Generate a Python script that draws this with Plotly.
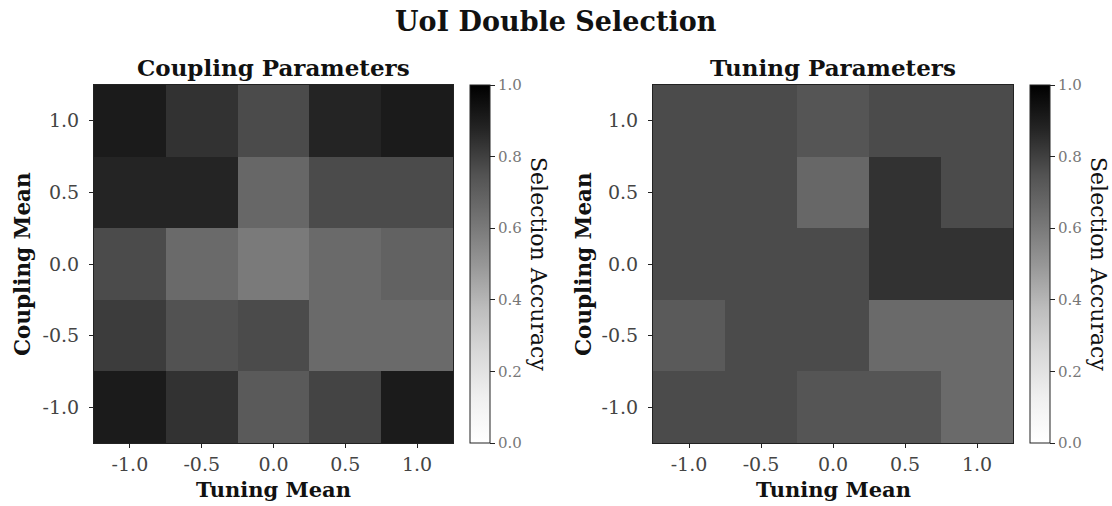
import plotly.graph_objects as go

# Grid of means (tuning on x, coupling on y)
tuning_means = [-1.0, -0.5, 0.0, 0.5, 1.0]
coupling_means = [-1.0, -0.5, 0.0, 0.5, 1.0]
tick_labels = ["-1.0", "-0.5", "0.0", "0.5", "1.0"]
cbar_ticks = [0.0, 0.2, 0.4, 0.6, 0.8, 1.0]
cbar_labels = ["0.0", "0.2", "0.4", "0.6", "0.8", "1.0"]

# Selection accuracy, rows ordered by coupling mean from -1.0 up to 1.0
coupling_accuracy = [
    [0.91, 0.84, 0.72, 0.79, 0.91],
    [0.81, 0.75, 0.77, 0.66, 0.66],
    [0.77, 0.66, 0.60, 0.66, 0.69],
    [0.88, 0.88, 0.67, 0.77, 0.77],
    [0.91, 0.84, 0.77, 0.88, 0.91],
]
tuning_accuracy = [
    [0.77, 0.77, 0.74, 0.74, 0.66],
    [0.72, 0.77, 0.77, 0.66, 0.66],
    [0.77, 0.77, 0.77, 0.84, 0.84],
    [0.77, 0.77, 0.67, 0.84, 0.77],
    [0.77, 0.77, 0.74, 0.77, 0.77],
]

# ColorBrewer "Greys" ramp
greys = [
    [0.000, "rgb(255,255,255)"],
    [0.125, "rgb(240,240,240)"],
    [0.250, "rgb(217,217,217)"],
    [0.375, "rgb(189,189,189)"],
    [0.500, "rgb(150,150,150)"],
    [0.625, "rgb(115,115,115)"],
    [0.750, "rgb(82,82,82)"],
    [0.875, "rgb(37,37,37)"],
    [1.000, "rgb(0,0,0)"],
]

W, H = 1112, 506
SERIF = "DejaVu Serif"
INK = "#111"


def px_x(p):
    return p / W


def px_y(p):
    return 1 - p / H


top, bottom = 85, 443
y_dom = [px_y(bottom), px_y(top)]
y_mid = (y_dom[0] + y_dom[1]) / 2
panels = [
    dict(x0=94, x1=453, cb=470, ylab=22, z=coupling_accuracy, title="Coupling Parameters"),
    dict(x0=653, x1=1013, cb=1030, ylab=583, z=tuning_accuracy, title="Tuning Parameters"),
]

fig = go.Figure()
annotations = []


def note(text, x, y, size, angle=0, color=INK):
    annotations.append(dict(
        text=text, xref="paper", yref="paper", x=x, y=y,
        xanchor="center", yanchor="middle", textangle=angle,
        showarrow=False, font=dict(family=SERIF, size=size, color=color),
    ))


for i, p in enumerate(panels):
    sfx = "" if i == 0 else str(i + 1)
    fig.add_trace(go.Heatmap(
        x=tuning_means, y=coupling_means, z=p["z"],
        zmin=0, zmax=1, colorscale=greys,
        xaxis="x" + sfx, yaxis="y" + sfx,
        hoverinfo="skip",
        colorbar=dict(
            x=px_x(p["cb"]), xanchor="left", xpad=0, ypad=0,
            y=y_mid, yanchor="middle",
            len=y_dom[1] - y_dom[0], lenmode="fraction",
            thickness=20, thicknessmode="pixels",
            outlinewidth=1, outlinecolor="#222",
            ticks="outside", ticklen=5, tickwidth=1, tickcolor="#222",
            tickvals=cbar_ticks, ticktext=cbar_labels,
            tickfont=dict(family=SERIF, size=15, color="#777"),
        ),
    ))
    axis_common = dict(
        range=[-1.25, 1.25], tickvals=tuning_means, ticktext=tick_labels,
        ticks="outside", ticklen=4, tickwidth=1, tickcolor="#222",
        showline=True, mirror=True, linecolor="#222", linewidth=1,
        showgrid=False, zeroline=False,
        tickfont=dict(family=SERIF, size=19, color="#444"),
    )
    fig.update_layout(**{
        "xaxis" + sfx: dict(axis_common, domain=[px_x(p["x0"]), px_x(p["x1"])],
                            anchor="y" + sfx, ticklabelstandoff=0),
        "yaxis" + sfx: dict(axis_common, domain=y_dom, anchor="x" + sfx,
                            ticklabelstandoff=6),
    })
    cx = px_x((p["x0"] + p["x1"]) / 2)
    note("<b>" + p["title"] + "</b>", cx, px_y(67), 23)
    note("<b>Tuning Mean</b>", cx, px_y(489), 21)
    note("<b>Coupling Mean</b>", px_x(p["ylab"]), y_mid, 21.5, angle=-90)
    note("Selection Accuracy", px_x(p["cb"] + 69), y_mid, 22, angle=90)

note("<b>UoI Double Selection</b>", 0.5, px_y(22), 27)

fig.update_layout(
    width=W, height=H, margin=dict(l=0, r=0, t=0, b=0),
    paper_bgcolor="white", plot_bgcolor="white",
    annotations=annotations, showlegend=False,
)

fig.write_html("out.html")
